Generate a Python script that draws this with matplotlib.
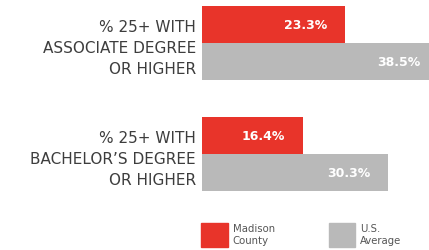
import matplotlib
matplotlib.use('Agg')
from matplotlib import pyplot as plt
from matplotlib.patches import Patch
import numpy as np

plt.rcParams['font.family'] = ['DejaVu Sans']

categories = ['% 25+ WITH\nASSOCIATE DEGREE\nOR HIGHER',
              '% 25+ WITH\nBACHELOR\u2019S DEGREE\nOR HIGHER']
madison = [23.3, 16.4]
us_avg = [38.5, 30.3]
series_names = ['Madison\nCounty', 'U.S.\nAverage']

RED = '#E8342A'
GRAY = '#B9B9B9'
TEXT = '#3d3d3d'

fig = plt.figure(figsize=(4.29, 2.51), dpi=100)
ax = fig.add_axes([0.471, 0.0, 0.529, 1.0])

pos = np.arange(len(categories)) * 3.0
h = 1.0
bars_r = ax.barh(pos - 0.5, madison, height=h, color=RED, linewidth=0)
bars_g = ax.barh(pos + 0.5, us_avg, height=h, color=GRAY, linewidth=0)

for bars, vals in [(bars_r, madison), (bars_g, us_avg)]:
    for b, v in zip(bars, vals):
        ax.annotate(f'{v:.1f}%', xy=(v, b.get_y() + b.get_height() / 2),
                    xytext=(-13, 0), textcoords='offset points',
                    ha='right', va='center', color='white',
                    fontsize=9, fontweight='bold', annotation_clip=False)

ax.set_xlim(0, 36.9)
ax.set_ylim(5.59, -1.19)
ax.set_yticks(pos)
ax.set_yticklabels(categories, fontsize=11, color=TEXT, linespacing=1.52,
                   ha='right', multialignment='right')
ax.tick_params(axis='y', length=0, pad=4.5)
ax.set_xticks([])
for s in ax.spines.values():
    s.set_visible(False)

handles = [Patch(color=RED), Patch(color=GRAY)]
fig.legend(handles, series_names, loc='lower left', bbox_to_anchor=(0.455, -0.012),
           ncol=2, frameon=False, fontsize=7.3, handlelength=2.6, handleheight=3.2,
           handletextpad=0.5, columnspacing=5.3, labelcolor='#555555',
           borderpad=0.1)

plt.savefig('out.png', dpi=100)
